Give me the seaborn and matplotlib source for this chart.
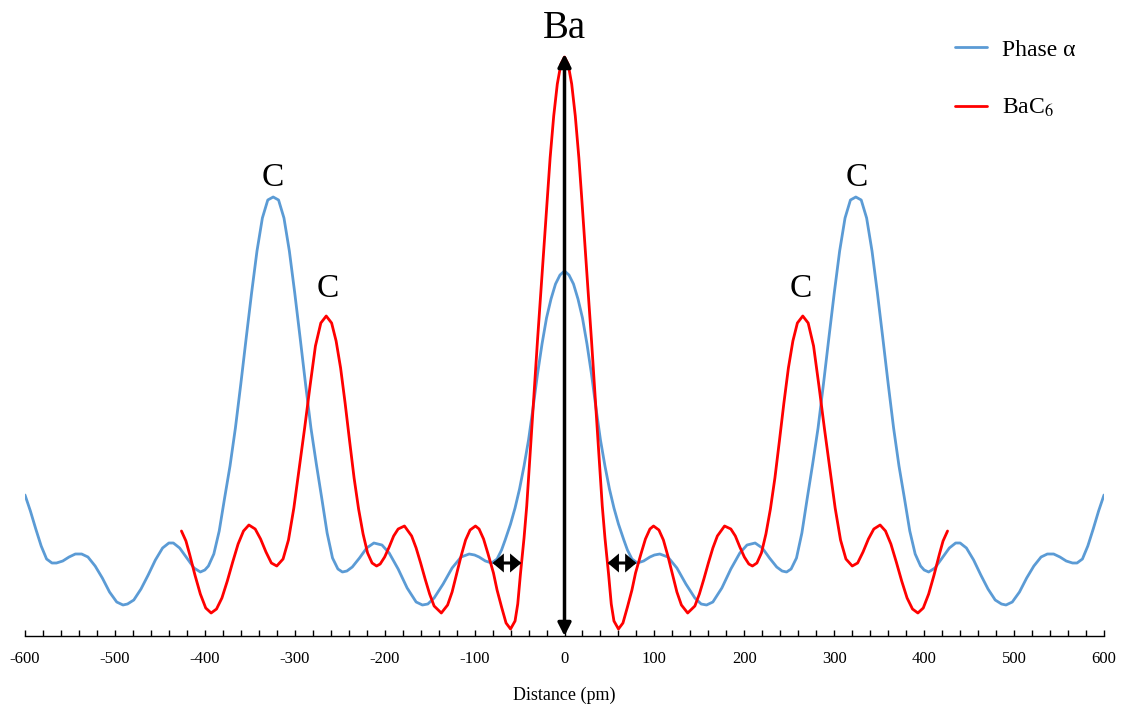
import matplotlib
matplotlib.use("Agg")
import matplotlib.pyplot as plt
import seaborn as sns
from matplotlib.ticker import MultipleLocator

# ---------------- data ----------------
blue_x = [-600, -594, -588, -582, -576, -570, -565, -558, -551, -544,
          -537, -530, -522, -514, -506, -498, -491, -486, -479, -471,
          -463, -455, -447, -440, -435, -428, -420, -412, -405, -400,
          -396, -390, -384, -378, -372, -366, -360, -354, -348, -342,
          -336, -330, -324, -318, -312, -306, -300, -294, -288, -282,
          -276, -270, -264, -258, -252, -247, -242, -236, -228, -220,
          -212, -203, -195, -185, -175, -165, -158, -152, -145, -135,
          -125, -115, -106, -100, -95, -88, -81, -75, -70, -66,
          -60, -55, -50, -45, -40, -35, -30, -25, -20, -15,
          -10, -5,
          0,
          5, 10, 15, 20, 25, 30, 35, 40, 45, 50,
          55, 60, 66, 70, 75, 81, 88, 95, 100, 106,
          115, 125, 135, 145, 152, 158, 165, 175, 185, 195,
          203, 212, 220, 228, 236, 242, 247, 252, 258, 264,
          270, 276, 282, 288, 294, 300, 306, 312, 318, 324,
          330, 336, 342, 348, 354, 360, 366, 372, 378, 384,
          390, 396, 400, 405, 412, 420, 428, 435, 440, 447,
          455, 463, 471, 479, 486, 491, 498, 506, 514, 522,
          530, 537, 544, 551, 558, 565, 570, 576, 582, 588,
          594, 600]
blue_y = [141, 125, 107, 90, 77, 73, 73, 75, 79, 82,
          82, 79, 70, 58, 44, 34, 31, 32, 36, 47,
          61, 76, 88, 93, 93, 88, 78, 68, 64, 66,
          70, 82, 105, 138, 170, 208, 252, 298, 343, 385,
          418, 436, 439, 436, 418, 385, 343, 298, 252, 208,
          172, 138, 103, 78, 67, 64, 65, 69, 78, 88,
          93, 91, 83, 67, 48, 34, 31, 32, 38, 52,
          68, 79, 82, 81, 79, 75, 73, 77, 86, 96,
          112, 128, 147, 170, 196, 228, 262, 292, 318, 337,
          352, 361,
          365,
          361, 352, 337, 318, 292, 262, 228, 196, 170, 147,
          128, 112, 96, 86, 77, 73, 75, 79, 81, 82,
          79, 68, 52, 38, 32, 31, 34, 48, 67, 83,
          91, 93, 88, 78, 69, 65, 64, 67, 78, 103,
          138, 172, 208, 252, 298, 343, 385, 418, 436, 439,
          436, 418, 385, 343, 298, 252, 208, 170, 138, 105,
          82, 70, 66, 64, 68, 78, 88, 93, 93, 88,
          76, 61, 47, 36, 32, 31, 34, 44, 58, 70,
          79, 82, 82, 79, 75, 73, 73, 77, 90, 107,
          125, 141]

red_x = [-426, -421, -417, -411, -405, -399, -393, -387, -381, -375,
         -369, -363, -357, -351, -344, -338, -332, -326, -320, -313,
         -307, -301, -295, -289, -283, -277, -271, -265, -259, -254,
         -249, -244, -239, -234, -229, -224, -219, -214, -209, -205,
         -200, -195, -190, -185, -178, -170, -165, -160, -155, -150,
         -145, -137, -130, -125, -120, -115, -110, -105, -99, -95,
         -90, -85, -79, -75, -70, -65, -60, -55, -52, -49,
         -45, -42, -38, -34, -30, -26, -22, -19, -16, -12,
         -8, -4,
         0,
         4, 8, 12, 16, 19, 22, 26, 30, 34, 38,
         42, 45, 49, 52, 55, 60, 65, 70, 75, 79,
         85, 90, 95, 99, 105, 110, 115, 120, 125, 130,
         137, 145, 150, 155, 160, 165, 170, 178, 185, 190,
         195, 200, 205, 209, 214, 219, 224, 229, 234, 239,
         244, 249, 254, 259, 265, 271, 277, 283, 289, 295,
         301, 307, 313, 320, 326, 332, 338, 344, 351, 357,
         363, 369, 375, 381, 387, 393, 399, 405, 411, 417,
         421, 426]
red_y = [105, 95, 82, 61, 42, 28, 23, 27, 38, 55,
         74, 92, 105, 111, 107, 97, 84, 73, 70, 77,
         96, 128, 168, 208, 250, 290, 313, 320, 313, 295,
         268, 233, 195, 158, 127, 102, 83, 73, 70, 72,
         79, 89, 100, 107, 110, 100, 88, 73, 57, 42,
         30, 23, 31, 44, 62, 80, 96, 106, 110, 107,
         97, 82, 63, 46, 29, 13, 7, 15, 32, 62,
         98, 130, 185, 240, 296, 348, 400, 440, 478, 520,
         552, 572,
         579,
         572, 552, 520, 478, 440, 400, 348, 296, 240, 185,
         130, 98, 62, 32, 15, 7, 13, 29, 46, 63,
         82, 97, 107, 110, 106, 96, 80, 62, 44, 31,
         23, 30, 42, 57, 73, 88, 100, 110, 107, 100,
         89, 79, 72, 70, 73, 83, 102, 127, 158, 195,
         233, 268, 295, 313, 320, 313, 290, 250, 208, 168,
         128, 96, 77, 70, 73, 84, 97, 107, 111, 105,
         92, 74, 55, 38, 27, 23, 28, 42, 61, 82,
         95, 105]

series_labels = ["Phase α", "BaC$_6$"]
peak_labels = ["Ba", "C", "C", "C", "C"]
peak_label_x = [0, -325, -263, 263, 325]
peak_label_y = [608, 458, 347, 347, 458]
x_label = "Distance (pm)"

# ---------------- styling ----------------
sns.set_style("white")
plt.rcParams["font.family"] = ["Liberation Serif", "DejaVu Serif"]
plt.rcParams["mathtext.fontset"] = "stix"
plt.rcParams["axes.unicode_minus"] = False
plt.rcParams["text.color"] = "black"
plt.rcParams["axes.labelcolor"] = "black"
plt.rcParams["xtick.color"] = "black"

W, H = 1122, 710
fig = plt.figure(figsize=(W / 100, H / 100), dpi=100)
ax = fig.add_axes([25 / W, 74 / H, 1079 / W, 596 / H])

sns.lineplot(x=blue_x, y=blue_y, color="#5B9BD5", linewidth=2, ax=ax,
             label=series_labels[0])
sns.lineplot(x=red_x, y=red_y, color="#FF0000", linewidth=2, ax=ax,
             label=series_labels[1])

ax.set_xlim(-600, 600)
ax.set_ylim(0, 596)
for s in ["left", "right", "top"]:
    ax.spines[s].set_visible(False)
ax.spines["bottom"].set_color("black")
ax.spines["bottom"].set_linewidth(1)
ax.set_yticks([])
ax.set_ylabel("")
ax.xaxis.set_major_locator(MultipleLocator(100))
ax.xaxis.set_minor_locator(MultipleLocator(20))
ax.tick_params(axis="x", which="both", direction="in", length=4, width=1,
               color="black", labelcolor="black", pad=11, labelsize=12,
               bottom=True)
ax.set_xlabel(x_label, fontsize=13, labelpad=14, color="black")

# arrows
v_arrow = dict(arrowstyle="<|-|>,head_length=0.55,head_width=0.28",
               color="black", lw=2.5, mutation_scale=14,
               shrinkA=0, shrinkB=0)
h_arrow = dict(arrowstyle="<|-|>,head_length=0.38,head_width=0.32",
               color="black", lw=2.2, mutation_scale=14,
               shrinkA=0, shrinkB=0, joinstyle="miter")
ax.annotate("", xy=(0, 582), xytext=(0, 0), arrowprops=v_arrow, zorder=5)
ax.annotate("", xy=(-48, 73), xytext=(-80, 73), arrowprops=h_arrow, zorder=5)
ax.annotate("", xy=(80, 73), xytext=(48, 73), arrowprops=h_arrow, zorder=5)

for lab, lx, ly in zip(peak_labels, peak_label_x, peak_label_y):
    ax.text(lx, ly, lab, ha="center", va="center", color="black",
            fontsize=28 if lab == "Ba" else 24, clip_on=False)

leg = ax.legend(loc="upper left", bbox_to_anchor=(955 / W, 1 - 39 / H),
                bbox_transform=fig.transFigure, frameon=False, fontsize=17,
                handlelength=1.36, handletextpad=0.64, labelspacing=1.55,
                borderpad=0, borderaxespad=0)
for t in leg.get_texts():
    t.set_color("black")

fig.savefig("out.png", dpi=100)
